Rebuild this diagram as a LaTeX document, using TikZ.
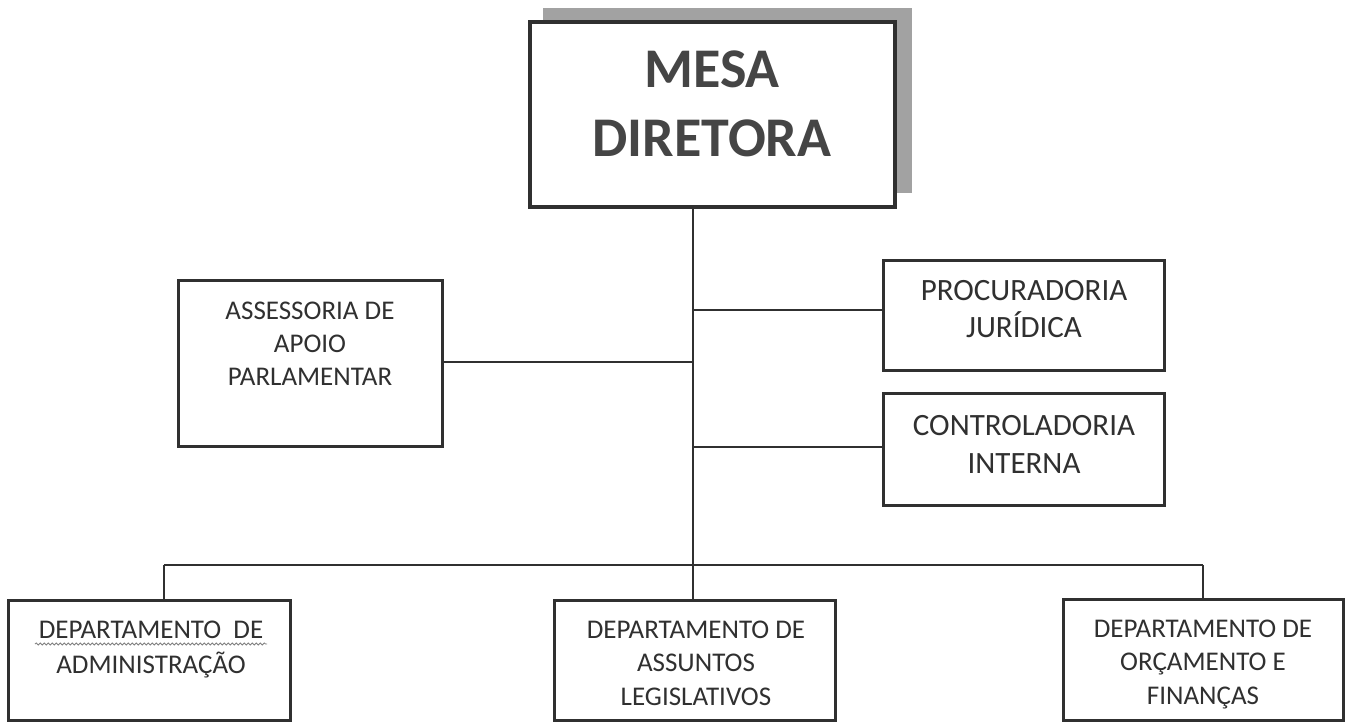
\documentclass[tikz,border=0pt]{standalone}
\usepackage{fontspec}
\setmainfont{Carlito}
\usetikzlibrary{decorations.pathmorphing}
\definecolor{ink}{HTML}{303030}
\definecolor{shadowgrey}{HTML}{A2A2A2}
\tikzset{
  box/.style={draw=ink, line width=3pt, fill=white, inner sep=0pt},
  link/.style={draw=ink, line width=1.3pt},
  lbl/.style={text=ink, align=center, anchor=base, inner sep=0pt},
  small/.style={lbl, font=\fontsize{27}{33.5}\selectfont},
  mid/.style={lbl, font=\fontsize{31}{37}\selectfont},
}
\begin{document}
\begin{tikzpicture}[x=1pt,y=-1pt]
\useasboundingbox (0,0) rectangle (1348,722);
\fill[white] (0,0) rectangle (1348,722);
% shadow
\fill[shadowgrey] (543,8) rectangle (912,193);
% boxes
\node[box, line width=3.5pt, minimum width=365pt, minimum height=185pt] (mesa) at (712.5,114.5) {};
\node[box, minimum width=264pt, minimum height=166pt] (assess) at (310,363) {};
\node[box, minimum width=281pt, minimum height=110pt] (proc) at (1023.5,315) {};
\node[box, minimum width=281pt, minimum height=112pt] (contr) at (1023.5,449) {};
\node[box, minimum width=282pt, minimum height=120pt] (depadm) at (149,660) {};
\node[box, minimum width=281pt, minimum height=120pt] (depleg) at (694.5,660) {};
\node[box, minimum width=280pt, minimum height=121pt] (deporc) at (1203,659.5) {};
% connectors
\coordinate (bus) at (693,565);
\coordinate (busL) at (164,565);
\coordinate (busR) at (1203,565);
\coordinate (jp) at (693,310);
\coordinate (ja) at (693,362);
\coordinate (jc) at (693,447);
\draw[link] (mesa.south -| bus) -- (bus);
\draw[link] (busL) -- (busR);
\draw[link] (busL) -- (busL |- depadm.north);
\draw[link] (bus) -- (bus |- depleg.north);
\draw[link] (busR) -- (busR |- deporc.north);
\draw[link] (jp) -- (jp -| proc.west);
\draw[link] (ja) -- (ja -| assess.east);
\draw[link] (jc) -- (jc -| contr.west);
% texts (anchor = baseline of the last line)
\node[lbl, font=\fontsize{56}{69}\selectfont\bfseries, text=ink!90] (mesat) at (712,157) {MESA\\DIRETORA};
\node[lbl, font=\fontsize{27}{33}\selectfont] (assesst) at (310,385) {ASSESSORIA DE\\APOIO\\PARLAMENTAR};
\node[mid] (proct) at (1024,337) {PROCURADORIA\\JURÍDICA};
\node[mid, font=\fontsize{31}{38}\selectfont] (contrt) at (1024,473) {CONTROLADORIA\\INTERNA};
\node[lbl, font=\fontsize{27}{35}\selectfont] (depadmt) at (151,673) {DEPARTAMENTO\ \ DE\\ADMINISTRAÇÃO};
\node[small] (deplegt) at (696,705) {DEPARTAMENTO DE\\ASSUNTOS\\LEGISLATIVOS};
\node[small] (deporct) at (1203,704) {DEPARTAMENTO DE\\ORÇAMENTO E\\FINANÇAS};
% spelling underline
\draw[gray, line width=0.8pt, decorate, decoration={snake, amplitude=1.1pt, segment length=4pt}] (35,644) -- (267,644);
\end{tikzpicture}
\end{document}
